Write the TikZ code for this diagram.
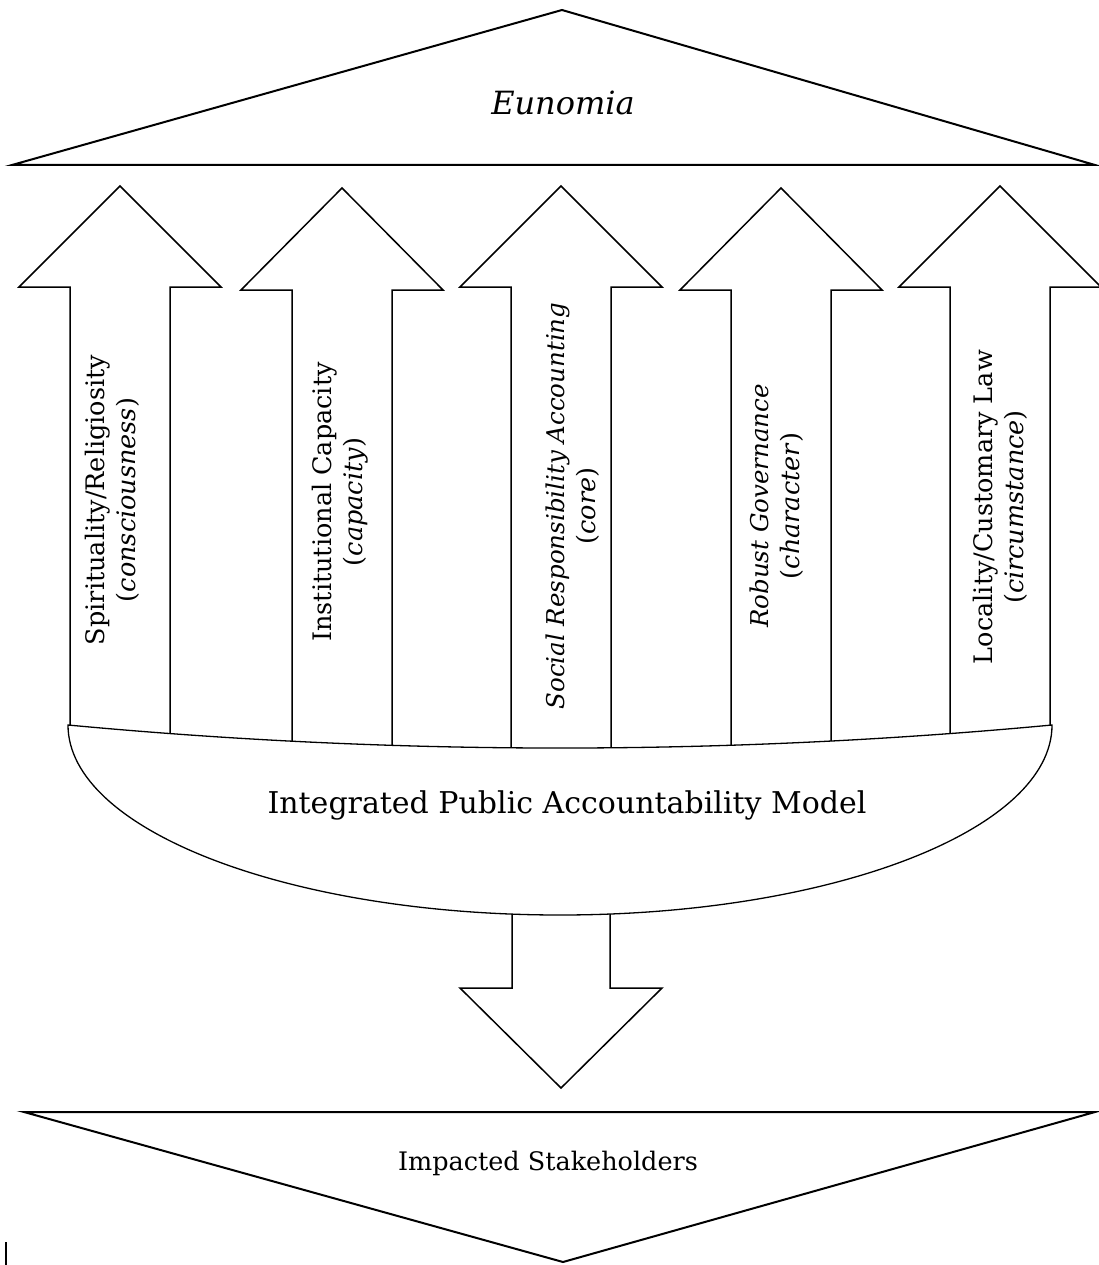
\documentclass[tikz,border=0pt]{standalone}
\usepackage{fontspec}
\setmainfont{DejaVu Serif}
\begin{document}
\begin{tikzpicture}[x=1pt,y=-1pt,line join=miter]
\tikzset{
  tri/.style={draw=black,line width=2pt},
  arw/.style={draw=black,line width=1.5pt},
  bowl/.style={draw=black,line width=1.3pt},
  armtext/.style={rotate=90,align=center,inner sep=0pt,font=\fontsize{25.5}{31}\selectfont},
}
\useasboundingbox (0,0) rectangle (1099,1265);
\fill[white] (0,0) rectangle (1099,1265);
% top triangle
\draw[tri] (12,165) -- (562,10) -- (1095,165) -- cycle;
\node[font=\fontsize{32}{38}\selectfont\itshape] (eun) at (563,103) {Eunomia};
% up arrows
\foreach \cx/\ay/\hy/\yl/\yr in {120/186/287/725.2/733.6, 342/188/290/741.2/745.3, 561/186/287/747.8/747.8, 781/188/290/745.2/741.0, 1000/186/287/733.6/725.1}
  \draw[arw] (\cx-50,\yl) -- (\cx-50,\hy) -- (\cx-101,\hy) -- (\cx,\ay) -- (\cx+101,\hy) -- (\cx+50,\hy) -- (\cx+50,\yr);
% bowl
\draw[bowl] (68,725) .. controls (68,830) and (288.3,915) .. (560,915) .. controls (831.7,915) and (1052,830) .. (1052,725) .. controls (724,755.7) and (396,755.7) .. cycle;
\node[font=\fontsize{30}{36}\selectfont] (ipam) at (567,805) {Integrated Public Accountability Model};
% arm texts
\node[armtext] (t1) at (112,500) {Spirituality/Religiosity\\(\textit{consciousness})};
\node[armtext] (t2) at (340,502) {Institutional Capacity\\(\textit{capacity})};
\node[armtext] (t3) at (573,506) {\fontsize{24.5}{31}\selectfont\textit{Social Responsibility Accounting}\\(\textit{core})};
\node[armtext] (t4) at (777,506) {\fontsize{24.5}{31}\selectfont\textit{Robust Governance}\\(\textit{character})};
\node[armtext] (t5) at (1000,507) {Locality/Customary Law\\(\textit{circumstance})};
% down arrow
\draw[arw] (512,914) -- (512,988) -- (460,988) -- (561,1088) -- (662,988) -- (610,988) -- (610,914);
% bottom triangle
\draw[tri] (24,1112) -- (1095,1112) -- (563,1262) -- cycle;
\node[font=\fontsize{25.5}{30}\selectfont] (imp) at (548,1163) {Impacted Stakeholders};
\coordinate (mk) at (6,1242);
\draw[line width=1.5pt] (mk) -- ++(0,23);
\end{tikzpicture}
\end{document}
